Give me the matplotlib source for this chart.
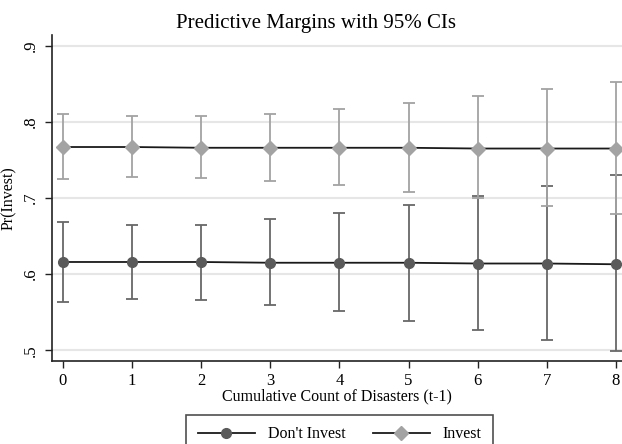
import matplotlib
import matplotlib.pyplot as plt
from matplotlib.lines import Line2D

matplotlib.use('Agg')

# Data
counts = [0, 1, 2, 3, 4, 5, 6, 7, 8]

dont_mean = [0.616, 0.616, 0.616, 0.615, 0.615, 0.615, 0.614, 0.614, 0.613]
dont_lo = [0.564, 0.5675, 0.566, 0.560, 0.551, 0.539, 0.527, 0.513, 0.499]
dont_hi = [0.668, 0.665, 0.665, 0.672, 0.680, 0.691, 0.703, 0.716, 0.730]

inv_mean = [0.767, 0.767, 0.766, 0.766, 0.766, 0.766, 0.765, 0.765, 0.765]
inv_lo = [0.7245, 0.727, 0.726, 0.7225, 0.7165, 0.7085, 0.700, 0.6895, 0.679]
inv_hi = [0.810, 0.808, 0.808, 0.811, 0.8175, 0.825, 0.834, 0.843, 0.853]

y_ticks = [0.5, 0.6, 0.7, 0.8, 0.9]
y_labels = ['.5', '.6', '.7', '.8', '.9']

plt.rcParams['font.family'] = ['Liberation Serif', 'DejaVu Serif']

fig = plt.figure(figsize=(6.22, 4.44), dpi=100)
ax = fig.add_axes([0.0844, 0.187, 0.9156, 0.734])

dark = '#5a5a5a'
light = '#a3a3a3'

# Don't Invest
ax.errorbar(counts, dont_mean,
            yerr=[[m - l for m, l in zip(dont_mean, dont_lo)],
                  [h - m for m, h in zip(dont_mean, dont_hi)]],
            fmt='none', ecolor='#686868', elinewidth=1.3, capsize=4.5, capthick=1.3, zorder=2)
ax.plot(counts, dont_mean, color='#1a1a1a', lw=1.3, zorder=3)
ax.plot(counts, dont_mean, 'o', color=dark, ms=7, mec=dark, zorder=4)

# Invest
ax.errorbar(counts, inv_mean,
            yerr=[[m - l for m, l in zip(inv_mean, inv_lo)],
                  [h - m for m, h in zip(inv_mean, inv_hi)]],
            fmt='none', ecolor=light, elinewidth=1.3, capsize=4.5, capthick=1.3, zorder=5)
ax.plot(counts, inv_mean, color='#1a1a1a', lw=1.3, zorder=6)
ax.plot(counts, inv_mean, 'D', color=light, ms=7, mec=light, zorder=7)

ax.set_xlim(-0.148, 8.087)
ax.set_ylim(0.486, 0.914)
ax.set_xticks(counts)
ax.set_yticks(y_ticks)
ax.set_yticklabels(y_labels, rotation=90, va='center')
ax.tick_params(axis='both', labelsize=12, length=5, width=1, color='#222222')
ax.tick_params(axis='y', pad=5)
ax.yaxis.grid(True, color='#e6e6e6', lw=1.5)
ax.set_axisbelow(True)

for side in ['top', 'right']:
    ax.spines[side].set_visible(False)
for side in ['left', 'bottom']:
    ax.spines[side].set_color('#222222')
    ax.spines[side].set_linewidth(1.2)

ax.set_xlabel('Cumulative Count of Disasters (t-1)', fontsize=11.5, labelpad=0)
ax.set_ylabel('Pr(Invest)', fontsize=11.5, labelpad=4)

fig.text(0.508, 0.948, 'Predictive Margins with 95% CIs', ha='center', va='center', fontsize=15)

# legend box runs past the bottom edge, as in the cropped original
handles = [
    Line2D([], [], color='#1a1a1a', lw=1.3, marker='o', ms=7, mfc=dark, mec=dark),
    Line2D([], [], color='#1a1a1a', lw=1.3, marker='D', ms=7, mfc=light, mec=light),
]
leg = fig.legend(handles, ["Don't Invest", 'Invest'], loc='lower center', ncol=2,
                 bbox_to_anchor=(0.546, -0.032), fontsize=11.5, frameon=True, fancybox=False,
                 edgecolor='#222222', handlelength=3.6, handletextpad=0.8, columnspacing=1.7,
                 borderpad=0.7, borderaxespad=0.3)
leg.get_frame().set_linewidth(1.2)

fig.savefig('out.png', dpi=100)
plt.close(fig)
